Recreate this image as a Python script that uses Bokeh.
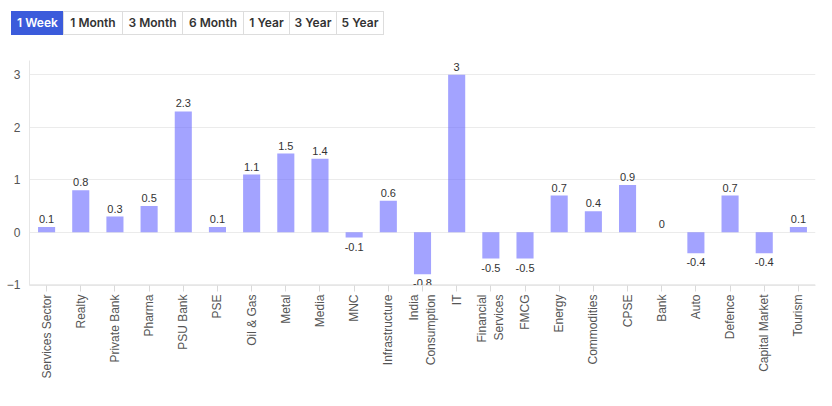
import math
from bokeh.plotting import figure
from bokeh.layouts import column
from bokeh.models import ColumnDataSource, Range1d, FactorRange, Div
from bokeh.core.properties import value
from bokeh.embed import file_html
from bokeh.resources import INLINE

categories = ["Services Sector", "Realty", "Private Bank", "Pharma", "PSU Bank", "PSE",
              "Oil & Gas", "Metal", "Media", "MNC", "Infrastructure", "India\nConsumption",
              "IT", "Financial\nServices", "FMCG", "Energy", "Commodities", "CPSE", "Bank",
              "Auto", "Defence", "Capital Market", "Tourism"]
values = [0.1, 0.8, 0.3, 0.5, 2.3, 0.1, 1.1, 1.5, 1.4, -0.1, 0.6, -0.8, 3, -0.5, -0.5,
          0.7, 0.4, 0.9, 0, -0.4, 0.7, -0.4, 0.1]
value_labels = ["0.1", "0.8", "0.3", "0.5", "2.3", "0.1", "1.1", "1.5", "1.4", "-0.1", "0.6",
                "-0.8", "3", "-0.5", "-0.5", "0.7", "0.4", "0.9", "0", "-0.4", "0.7", "-0.4", "0.1"]
y_ticks = [-1, 0, 1, 2, 3]
periods = ["1 Week", "1 Month", "3 Month", "6 Month", "1 Year", "3 Year", "5 Year"]
active_period = "1 Week"

FONT = "Liberation Sans"
BTN_FONT = "Inter"

# ---------------- period buttons (HTML) ----------------
btn_w = [53, 60, 61, 62, 47, 48, 48]
spans = []
for i, (lab, w) in enumerate(zip(periods, btn_w)):
    active = lab == active_period
    bg = "#3b5bdb" if active else "#ffffff"
    fg = "#ffffff" if active else "#333333"
    bc = "#3b5bdb" if active else "#dddddd"
    spans.append(
        f'<div style="box-sizing:border-box;width:{w}px;height:24px;line-height:22px;'
        f'text-align:center;background:{bg};color:{fg};border:1px solid {bc};'
        f'margin-left:{0 if i == 0 else -1}px;white-space:nowrap;">{lab}</div>'
    )
btn_html = (
    f'<div style="display:flex;flex-direction:row;padding:11px 0 0 11px;'
    f'font-family:{BTN_FONT};font-size:12px;font-weight:600;">' + "".join(spans) + "</div>"
)
buttons = Div(text=btn_html, width=816, height=50, margin=(0, 0, 0, 0))

# ---------------- bar chart ----------------
src = ColumnDataSource(dict(cat=categories, val=values, lab=value_labels))
pos_idx = [i for i, v in enumerate(values) if v >= 0]
neg_idx = [i for i, v in enumerate(values) if v < 0]
pos_src = ColumnDataSource(dict(cat=[categories[i] for i in pos_idx],
                                val=[values[i] for i in pos_idx],
                                lab=[value_labels[i] for i in pos_idx]))
neg_src = ColumnDataSource(dict(cat=[categories[i] for i in neg_idx],
                                val=[values[i] for i in neg_idx],
                                lab=[value_labels[i] for i in neg_idx]))

p = figure(x_range=FactorRange(*categories, range_padding=0),
           y_range=Range1d(-1.012, 3.27),
           frame_width=786, frame_height=225,
           output_backend="svg", toolbar_location=None,
           min_border_left=29, min_border_right=9, min_border_top=10, min_border_bottom=100)
p.outline_line_color = None

p.vbar(x="cat", top="val", bottom=0, width=0.5, source=src,
       fill_color="#6666ff", fill_alpha=0.6, line_color=None)

p.text(x="cat", y="val", text="lab", source=pos_src, text_align="center",
       text_baseline="bottom", y_offset=-4, text_font=value(FONT), text_font_size="11px",
       text_color="#333333")
p.text(x="cat", y="val", text="lab", source=neg_src, text_align="center",
       text_baseline="top", y_offset=5, text_font=value(FONT), text_font_size="11px",
       text_color="#333333")

p.yaxis.ticker = y_ticks
p.yaxis.axis_line_color = "#e6e6e6"
p.yaxis.major_tick_line_color = None
p.yaxis.major_tick_out = 0
p.yaxis.major_tick_in = 0
p.yaxis.minor_tick_line_color = None
p.yaxis.minor_tick_out = 0
p.yaxis.major_label_standoff = 9
p.yaxis.major_label_text_font = FONT
p.yaxis.major_label_text_font_size = "12px"
p.yaxis.major_label_text_color = "#555555"

p.xaxis.axis_line_color = "#e6e6e6"
p.xaxis.major_tick_line_color = "#d9d9d9"
p.xaxis.major_tick_in = 0
p.xaxis.major_tick_out = 6
p.xaxis.major_label_orientation = math.pi / 2
p.xaxis.major_label_standoff = 3
p.xaxis.major_label_text_font = FONT
p.xaxis.major_label_text_font_size = "12px"
p.xaxis.major_label_text_color = "#555555"

p.xgrid.grid_line_color = None
p.ygrid.ticker = y_ticks
p.ygrid.grid_line_color = "#ebebeb"
p.ygrid.grid_line_width = 1

layout = column(buttons, p, spacing=0)
open("out.html", "w").write(file_html(layout, INLINE))
